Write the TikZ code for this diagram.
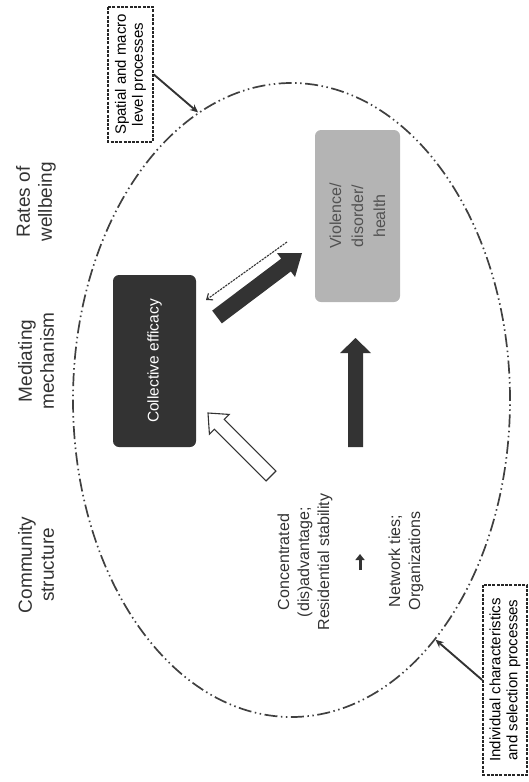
\documentclass[tikz,border=0pt]{standalone}
\usepackage{fontspec}
\setmainfont{Liberation Sans}
\usetikzlibrary{calc,shapes.geometric,arrows.meta}

\definecolor{fonce}{HTML}{333333}
\definecolor{gris}{HTML}{B4B4B4}
\definecolor{trait}{HTML}{404040}

% flèche pleine entre deux points : [style]{départ}{arrivée}{demi-corps}{demi-tête}{longueur tête}
\newcommand{\blockarrow}[6][]{%
  \coordinate (hb) at ($(#3)!#6!(#2)$);
  \path[#1] ($(#2)!#4!90:(#3)$) -- ($(hb)!#4!90:(#3)$) -- ($(hb)!#5!90:(#3)$) -- (#3)
    -- ($(hb)!#5!-90:(#3)$) -- ($(hb)!#4!-90:(#3)$) -- ($(#2)!#4!-90:(#3)$) -- cycle;}

\begin{document}
\begin{tikzpicture}[x=1pt, y=-1pt,
    entete/.style={rotate=90, align=center, text=black!80, font=\fontsize{19}{22}\selectfont},
    cadre/.style={rotate=90, draw=black!85, dash pattern=on 3pt off 1.3pt, line width=1.6pt, align=center, inner sep=0pt, font=\fontsize{15}{17}\selectfont},
    bloc/.style={rotate=90, rounded corners=6pt, align=center, inner sep=0pt},
    texte/.style={rotate=90, align=center, text=fonce, font=\fontsize{16}{20}\selectfont},
    limite/.style={ellipse, draw=trait, line width=1.7pt, inner sep=0pt, dash pattern=on 13pt off 3.5pt on 1.5pt off 3.5pt on 1.5pt off 3.5pt},
    pointer/.style={draw=fonce, line width=1.9pt, -{Stealth[length=8pt,width=7pt]}},
    retour/.style={draw=fonce, line width=1.1pt, dash pattern=on 2.2pt off 1pt, -{Straight Barb[length=5pt,width=8pt]}},
    petite/.style={draw=fonce, line width=3pt, -{Triangle[length=6pt,width=9pt]}},
    plein/.style={fill=fonce},
    creux/.style={fill=white, draw=fonce, line width=1.1pt}]

\useasboundingbox (0,0) rectangle (528,782);

% grande ellipse
\node[limite, minimum width=437pt, minimum height=634pt] (contour) at (291.5,400) {};

% titres des colonnes
\node[entete] (taux) at (36,202) {Rates of\\wellbeing};
\node[entete] (mediation) at (36,361) {Mediating\\mechanism};
\node[entete] (structure) at (36,565) {Community\\structure};

% cadres pointillés et leurs flèches
\node[cadre, minimum width=135pt, minimum height=45pt] (spatial) at (130.5,74.5) {Spatial and macro\\level processes};
\node[cadre, minimum width=190pt, minimum height=44pt] (individu) at (505,680) {Individual characteristics\\and selection processes};
\draw[pointer] (spatial.south) -- (contour.108.6);
\draw[pointer] (individu.north) -- (contour.-59);

% les deux blocs
\node[bloc, fill=fonce, text=white, minimum width=172pt, minimum height=83pt, font=\fontsize{15.5}{18}\selectfont] (efficacite) at (154.5,361) {Collective efficacy};
\node[bloc, fill=gris, text=black!68, minimum width=172pt, minimum height=85pt, font=\fontsize{16}{22}\selectfont] (violence) at (357.5,216) {Violence/\\disorder/\\health};

% textes du bas
\node[texte] (concentre) at (305,562) {Concentrated\\(dis)advantage;\\Residential stability};
\node[texte] (reseau) at (406,561) {Network ties;\\Organizations};
\coordinate (p1) at (360,570);
\coordinate (p2) at (360,554);
\draw[petite] (p1) -- (p2);

% flèches pleines
\coordinate (aller-a) at (217,317);
\coordinate (aller-b) at (302,253);
\blockarrow[plein]{aller-a}{aller-b}{8pt}{15pt}{20pt}
\coordinate (montee-a) at (355.5,447);
\coordinate (montee-b) at (355.5,338);
\blockarrow[plein]{montee-a}{montee-b}{7.5pt}{15.5pt}{15pt}
\coordinate (creux-a) at (271,476);
\coordinate (creux-b) at (208,413);
\blockarrow[creux]{creux-a}{creux-b}{7pt}{14pt}{16pt}

% retour en pointillés
\coordinate (retour-a) at (287,242);
\coordinate (retour-b) at (206,300);
\draw[retour] (retour-a) -- (retour-b);
\end{tikzpicture}
\end{document}
